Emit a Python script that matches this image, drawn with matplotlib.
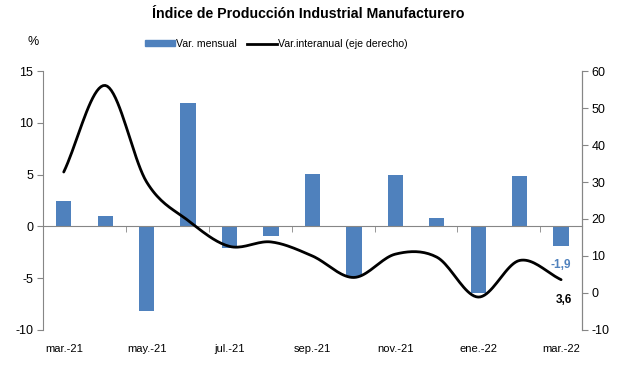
import numpy as np
import matplotlib
matplotlib.use("Agg")
import matplotlib.pyplot as plt
from matplotlib.lines import Line2D
from matplotlib.patches import Patch

plt.rcParams["font.family"] = ["Liberation Sans", "DejaVu Sans"]
plt.rcParams["axes.unicode_minus"] = False

# ── data ─────────────────────────────────────────────────────────────────────
months = ["mar.-21", "abr.-21", "may.-21", "jun.-21", "jul.-21", "ago.-21",
          "sep.-21", "oct.-21", "nov.-21", "dic.-21", "ene.-22", "feb.-22",
          "mar.-22"]
var_mensual = [2.5, 1.0, -8.2, 11.9, -2.1, -0.9, 5.05, -4.9, 5.0, 0.85,
               -6.4, 4.9, -1.9]
var_interanual = [32.7, 56.1, 30.0, 19.6, 12.6, 13.8, 10.0, 4.2, 10.5, 9.7,
                  -1.1, 8.8, 3.6]

BLUE = "#4F81BD"
GREY = "#868686"


def smooth(x, y, n=20):
    """Catmull-Rom curve through the points (Excel-like smoothed line)."""
    x = np.asarray(x, float)
    y = np.asarray(y, float)
    px = np.concatenate([[2 * x[0] - x[1]], x, [2 * x[-1] - x[-2]]])
    py = np.concatenate([[2 * y[0] - y[1]], y, [2 * y[-1] - y[-2]]])
    xs, ys = [], []
    t = np.linspace(0, 1, n, endpoint=False)
    for i in range(1, len(px) - 2):
        for p, out in ((px, xs), (py, ys)):
            p0, p1, p2, p3 = p[i - 1], p[i], p[i + 1], p[i + 2]
            out.extend(0.5 * (2 * p1 + (-p0 + p2) * t
                              + (2 * p0 - 5 * p1 + 4 * p2 - p3) * t ** 2
                              + (-p0 + 3 * p1 - 3 * p2 + p3) * t ** 3))
    xs.append(x[-1])
    ys.append(y[-1])
    return np.array(xs), np.array(ys)


fig = plt.figure(figsize=(6.17, 3.83), dpi=100)
ax = fig.add_axes([0.0697, 0.1384, 0.8733, 0.6762])
ax2 = ax.twinx()

idx = np.arange(len(months))
ax.bar(idx, var_mensual, width=0.37, color=BLUE, zorder=2)
sx, sy = smooth(idx, var_interanual)
ax2.plot(sx, sy, color="black", lw=2, solid_capstyle="round", zorder=3)

ax.set_xlim(-0.5, len(months) - 0.5)
ax.set_ylim(-10, 15)
ax.set_yticks([-10, -5, 0, 5, 10, 15])
ax2.set_ylim(-10, 60)
ax2.set_yticks(range(-10, 61, 10))

# category axis sits on the zero line, labels at the bottom
ax.spines["top"].set_visible(False)
ax2.spines["top"].set_visible(False)
ax2.spines["bottom"].set_visible(False)
ax2.spines["left"].set_visible(False)
ax.spines["bottom"].set_position(("data", 0))
for a in (ax, ax2):
    for s in a.spines.values():
        s.set_color(GREY)
        s.set_linewidth(0.8)

ax.set_xticks(idx[::2])
ax.set_xticklabels(months[::2])
ax.set_xticks(np.arange(1.5, len(months) - 1, 2), minor=True)
ax.tick_params(axis="x", which="major", length=0, pad=85, labelsize=8)
ax.tick_params(axis="x", which="minor", length=4, color=GREY)
ax.tick_params(axis="y", length=4, color=GREY, labelsize=9, pad=3)
ax2.tick_params(axis="y", length=4, color=GREY, labelsize=9, pad=3)

ax.annotate("-1,9", (idx[-1], var_mensual[-1]), xytext=(0, -9),
            textcoords="offset points", ha="center", va="top",
            color=BLUE, fontsize=8.5, fontweight="bold")
ax2.annotate("3,6", (idx[-1], var_interanual[-1]), xytext=(2, -10),
             textcoords="offset points", ha="center", va="top",
             color="black", fontsize=8.5, fontweight="bold")

fig.text(0.5, 0.963, "Índice de Producción Industrial Manufacturero",
         ha="center", va="center", fontsize=10.2, fontweight="bold")
fig.text(0.053, 0.89, "%", ha="center", va="center", fontsize=9)

handles = [Patch(color=BLUE), Line2D([], [], color="black", lw=2)]
fig.legend(handles, ["Var. mensual", "Var.interanual (eje derecho)"],
           loc="center", bbox_to_anchor=(0.448, 0.885), ncol=2, frameon=False,
           fontsize=7.6, handlelength=2.8, handleheight=0.5, handletextpad=0.1,
           columnspacing=1.0)

fig.savefig("out.png", dpi=100)
